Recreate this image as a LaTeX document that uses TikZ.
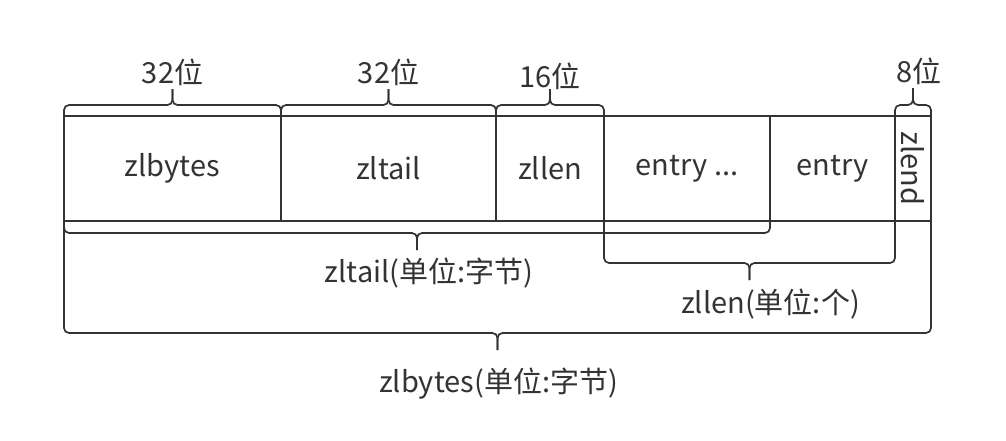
\documentclass[tikz,border=0pt]{standalone}
\usepackage{fontspec}
\usepackage{graphicx}
\setmainfont{Noto Sans CJK SC}
\usetikzlibrary{positioning,calc}
\definecolor{ink}{HTML}{333333}
\tikzset{
  cell/.style={draw=ink, line width=1.7pt, rectangle, minimum height=105pt,
    inner sep=0pt, outer sep=0pt, text=ink, font=\fontsize{29}{33}\selectfont},
  brc/.style={draw=ink, line width=1.7pt, rounded corners=5pt},
  lbl/.style={text=ink, inner sep=0pt, font=\fontsize{29}{33}\selectfont}
}
% brace between two anchors: bar offset, tip offset
\newcommand{\curly}[4]{%
  \draw[brc] (#1) -- ++(0,#3) -| ($(#1)!.5!(#2)+(0,#4)$) coordinate (tip);
  \draw[brc] (#2) -- ++(0,#3) -| (tip);}
\begin{document}
\begin{tikzpicture}[x=1pt,y=-1pt]
\useasboundingbox (0,0) rectangle (1006,440);

\node[cell, minimum width=217pt, anchor=north west] (bytes) at (64,116) {\raisebox{-3pt}{zlbytes}};
\node[cell, minimum width=215pt, right=0pt of bytes] (tail) {\raisebox{-3pt}{zltail}};
\node[cell, minimum width=108pt, right=0pt of tail] (len) {\raisebox{-3pt}{zllen}};
\node[cell, minimum width=166pt, right=0pt of len] (dots) {\raisebox{-3pt}{entry ...}};
\node[cell, minimum width=125pt, right=0pt of dots] (last) {\raisebox{-3pt}{entry}};
\node[cell, minimum width=36pt, right=0pt of last] (zend) {\rotatebox{-90}{zlend}};

% sizes on top
\curly{bytes.north west}{bytes.north east}{-11}{-27}
\node[lbl] (b32a) at ($(tip)+(0,-17)$) {32位};
\curly{tail.north west}{tail.north east}{-11}{-27}
\node[lbl] (b32b) at ($(tip)+(0,-17)$) {32位};
\curly{len.north west}{len.north east}{-11}{-27}
\node[lbl] (b16) at ($(tip)+(0,-13)$) {16位};
\curly{zend.north west}{zend.north east}{-11}{-28}
\node[lbl] (b8) at ($(tip)+(6,-17)$) {8位};

% offsets below
\curly{bytes.south west}{dots.south east}{12}{29}
\node[lbl] (offtail) at ($(tip)+(12,23)$) {zltail(单位:字节)};
\curly{dots.south west}{last.south east}{42}{59}
\node[lbl] (offlen) at ($(tip)+(21,24)$) {zllen(单位:个)};
\curly{bytes.south west}{zend.south east}{112}{129}
\node[lbl] (offbytes) at ($(tip)+(1,34)$) {zlbytes(单位:字节)};
\end{tikzpicture}
\end{document}
